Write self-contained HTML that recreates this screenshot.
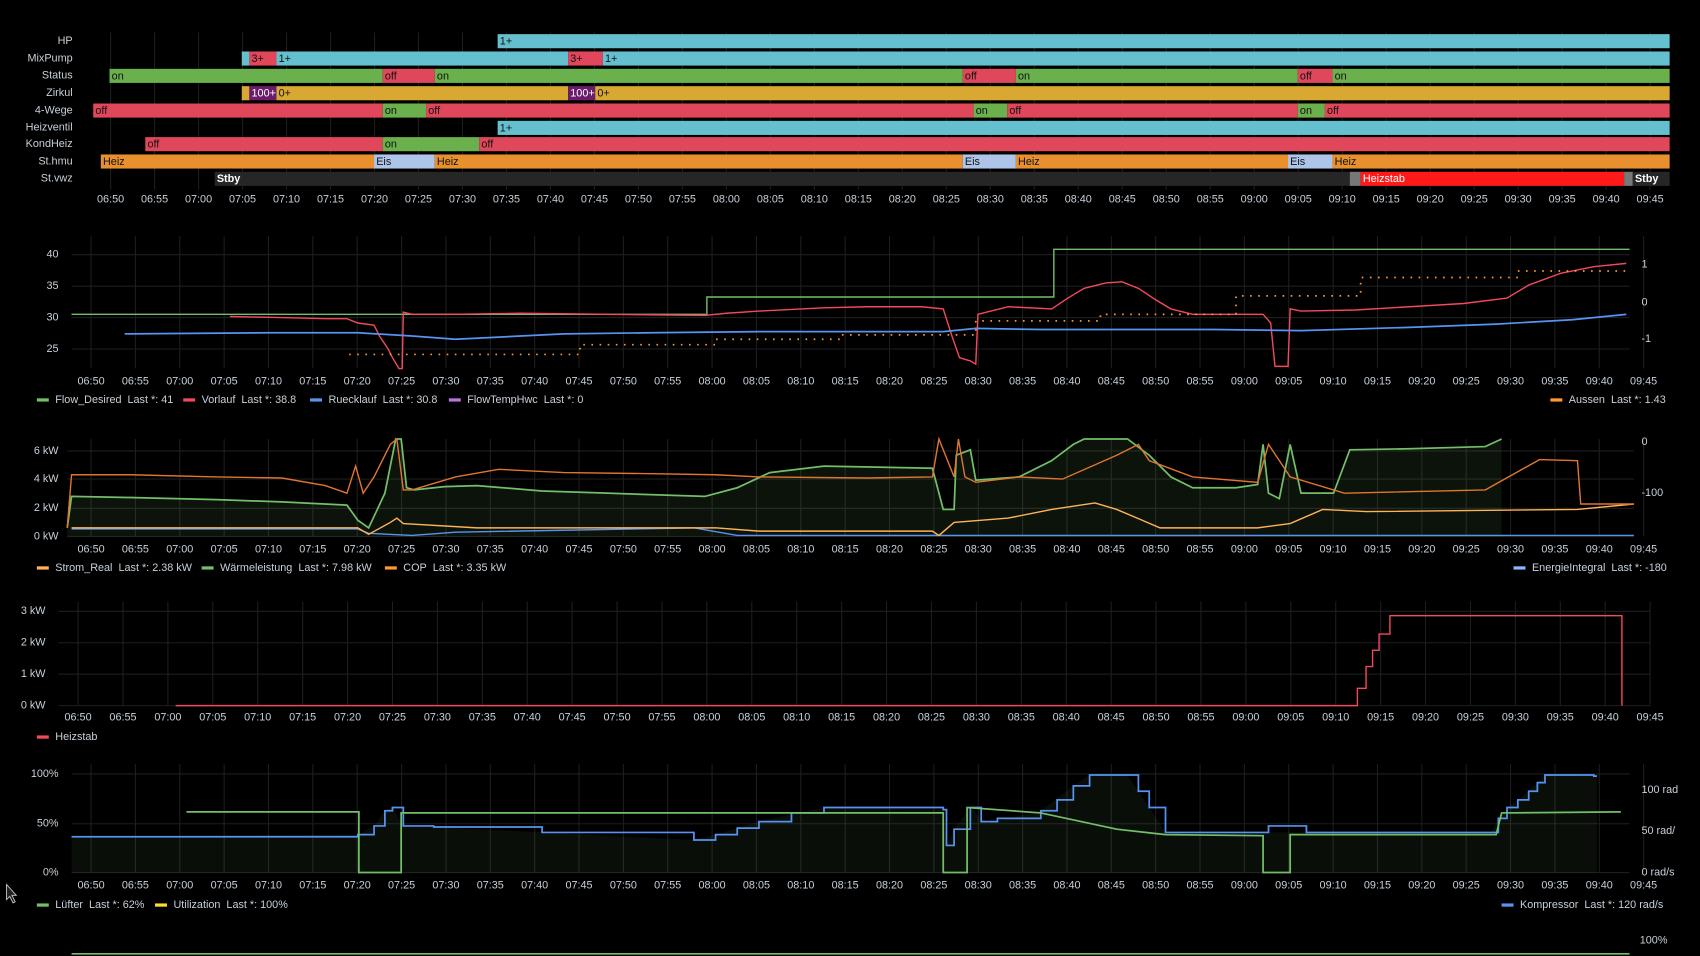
<!DOCTYPE html>
<html><head><meta charset="utf-8"><style>
html,body{margin:0;padding:0;background:#000;}
svg{display:block;font-family:"Liberation Sans",sans-serif;}
</style></head><body>
<svg id="s" width="1700" height="956" viewBox="0 0 1568 882" preserveAspectRatio="none" xmlns="http://www.w3.org/2000/svg">
<rect width="1568" height="882" fill="#000"/>
</svg>
<script>
const S=document.getElementById('s');const NS='http://www.w3.org/2000/svg';
function el(t,a,txt){const e=document.createElementNS(NS,t);for(const k in a)e.setAttribute(k,a[k]);if(txt!==undefined)e.textContent=txt;S.appendChild(e);return e;}
function text(x,y,s,o={}){return el('text',Object.assign({x,y,fill:'#c7d0d9','font-size':10,'dominant-baseline':'middle'},o),s);}
const times=[];for(let i=0;i<36;i++){let m=50+i*5;let h=6+Math.floor(m/60);m%=60;times.push(String(h).padStart(2,'0')+':'+String(m).padStart(2,'0'));}
function xaxis(x0,x1,y,gtop,gbot){const d=(x1-x0)/35;for(let i=0;i<36;i++){const x=x0+i*d;el('line',{x1:x,x2:x,y1:gtop,y2:gbot,stroke:'#1e1e1e','stroke-width':1});text(x,y,times[i],{'text-anchor':'middle'});}}
function hgrid(x0,x1,ys){ys.forEach(y=>el('line',{x1:x0,x2:x1,y1:y,y2:y,stroke:'#1e1e1e'}));}
function line(p,c,w=1.3,extra={}){el('polyline',Object.assign({points:p.map(q=>q.join(',')).join(' '),fill:'none',stroke:c,'stroke-width':w},extra));}
function step(p){const r=[];for(let i=0;i<p.length;i++){if(i>0)r.push([p[i][0],p[i-1][1]]);r.push(p[i]);}return r;}
function area(p,yb,c){const pts=[[p[0][0],yb],...p,[p[p.length-1][0],yb]];el('polygon',{points:pts.map(q=>q.join(',')).join(' '),fill:c});}
function legend(items,y){items.forEach(([x,c,s])=>{el('rect',{x:x,y:y-1.5,width:11,height:3,fill:c});text(x+17,y,s.replace(/ /g,'\u00a0'),{'font-size':10});});}
const C={cy:'#64bfcf',rd:'#e0475a',gr:'#6ab04c',ye:'#d9a833',pu:'#6b1d6b',or:'#e8902e',ei:'#aec4e8',dk:'#262626',gy:'#777',hs:'#ff1a1a'};
xaxis(102,1522,184,30,175);
const rows=[
['HP',[[459,1540,'cy','1+']]],
['MixPump',[[223,230,'cy',''],[230,255,'rd','3+'],[255,524,'cy','1+'],[524,556,'rd','3+'],[556,1540,'cy','1+']]],
['Status',[[101,353,'gr','on'],[353,401,'rd','off'],[401,888,'gr','on'],[888,937,'rd','off'],[937,1197,'gr','on'],[1197,1229,'rd','off'],[1229,1540,'gr','on']]],
['Zirkul',[[223,230,'ye',''],[230,255,'pu','100+'],[255,524,'ye','0+'],[524,549,'pu','100+'],[549,1540,'ye','0+']]],
['4-Wege',[[86,353,'rd','off'],[353,393,'gr','on'],[393,898,'rd','off'],[898,929,'gr','on'],[929,1197,'rd','off'],[1197,1222,'gr','on'],[1222,1540,'rd','off']]],
['Heizventil',[[459,1540,'cy','1+']]],
['KondHeiz',[[134,353,'rd','off'],[353,442,'gr','on'],[442,1540,'rd','off']]],
['St.hmu',[[93,345,'or','Heiz'],[345,401,'ei','Eis'],[401,888,'or','Heiz'],[888,937,'ei','Eis'],[937,1188,'or','Heiz'],[1188,1229,'ei','Eis'],[1229,1540,'or','Heiz']]],
['St.vwz',[[198,1245,'dk','Stby'],[1245,1255,'gy',''],[1255,1498,'hs','Heizstab'],[1498,1506,'gy',''],[1506,1540,'dk','Stby']]]];
const ry=[38,54,70,86,102,118,133,149,165];
rows.forEach((r,i)=>{const y=ry[i];text(67,y,r[0],{'text-anchor':'end'});r[1].forEach(s=>{el('rect',{x:s[0],y:y-6.5,width:s[1]-s[0],height:13,fill:C[s[2]]});if(s[3]){const light=(s[2]=='pu'||s[2]=='dk'||s[2]=='hs');text(s[0]+2,y+0.5,s[3],{fill:light?'#fff':'#111','font-size':10,'font-weight':s[2]=='dk'?'bold':'normal'});}});});
hgrid(66,1503,[235,264,293,322]);xaxis(84,1516,352,218,340);
[['40',235],['35',264],['30',293],['25',322]].forEach(a=>text(54,a[1],a[0],{'text-anchor':'end'}));
[['1',244],['0',279],['-1',313]].forEach(a=>text(1514,a[1],a[0]));
line([[66,290],[652,290],[652,274],[972,274],[972,230],[1503,230]],'#73bf69');
line([[212,292],[260,293],[300,294],[320,294],[330,298],[345,300],[350,310],[358,322],[362,330],[368,340],[371,340],[372,288],[380,290],[420,290],[480,289],[560,290],[650,291],[670,289],[700,287],[760,284],[800,283],[850,283],[870,285],[878,310],[885,330],[895,333],[900,336],[902,290],[930,283],[970,285],[985,275],[1000,266],[1020,261],[1035,260],[1050,266],[1065,276],[1080,285],[1100,290],[1165,290],[1172,298],[1176,338],[1188,338],[1190,285],[1200,287],[1250,286],[1300,283],[1350,280],[1390,275],[1410,263],[1440,252],[1470,246],[1500,243]],'#f2495c');
line([[115,308],[250,307],[330,307],[380,310],[420,313],[480,310],[520,308],[600,307],[700,306],[800,306],[870,306],[900,303],[960,304],[1050,304],[1120,304],[1200,305],[1300,302],[1380,299],[1450,295],[1500,290]],'#5794f2',1.6);
line([[322,327],[535,327],[535,318],[660,318],[660,313],[775,313],[775,309],[900,309],[900,296],[1015,296],[1015,290],[1140,290],[1140,273],[1255,273],[1255,256],[1400,256],[1400,250],[1500,250]],'#ff9830',1.6,{'stroke-dasharray':'1.5 6'});
legend([[34,'#73bf69','Flow_Desired  Last *: 41'],[169,'#f2495c','Vorlauf  Last *: 38.8'],[286,'#5794f2','Ruecklauf  Last *: 30.8'],[414,'#b877d9','FlowTempHwc  Last *: 0'],[1430,'#ff9830','Aussen  Last *: 1.43']],369);
hgrid(62,1507,[416,442,469,495]);xaxis(84,1516,507,405,495);
[['6 kW',416],['4 kW',442],['2 kW',469],['0 kW',495]].forEach(a=>text(54,a[1],a[0],{'text-anchor':'end'}));
[['0',408],['-100',455]].forEach(a=>text(1514,a[1],a[0]));
const gw=[[62,487],[66,458],[120,459],[200,461],[260,463],[320,466],[330,480],[340,487],[348,470],[355,455],[365,405],[370,405],[375,450],[382,452],[410,449],[440,448],[500,453],[560,455],[650,458],[680,450],[710,436],[760,430],[860,432],[870,470],[880,470],[882,420],[895,415],[900,443],[940,440],[970,425],[990,410],[1000,405],[1040,405],[1060,420],[1080,440],[1100,450],[1140,450],[1160,447],[1165,410],[1170,455],[1180,460],[1190,410],[1200,455],[1230,455],[1245,415],[1300,414],[1370,412],[1385,405]];
area(gw,495,'rgba(115,191,105,0.1)');
line([[66,488],[330,488],[340,492],[380,494],[420,491],[640,487],[680,494],[1507,494]],'#5794f2');
line([[66,487],[330,487],[340,493],[360,482],[366,478],[372,483],[440,487],[660,487],[700,490],[860,490],[866,494],[880,482],[930,478],[970,470],[1010,464],[1030,470],[1070,487],[1160,487],[1190,483],[1220,470],[1260,472],[1455,470],[1507,465]],'#ffb357');
line(gw,'#73bf69',1.6);
line([[62,487],[66,438],[120,438],[200,440],[260,441],[300,448],[320,455],[328,430],[335,455],[345,440],[360,410],[366,405],[372,452],[380,452],[420,440],[460,433],[520,436],[600,437],[660,438],[700,440],[800,441],[860,440],[866,405],[880,440],[884,405],[890,440],[900,445],[940,440],[980,442],[1030,420],[1050,410],[1060,425],[1100,440],[1160,445],[1170,410],[1190,440],[1240,455],[1370,452],[1420,424],[1455,425],[1458,465],[1507,465]],'#e0752d');
legend([[34,'#ffb357','Strom_Real  Last *: 2.38 kW'],[186,'#73bf69','Wärmeleistung  Last *: 7.98 kW'],[355,'#ff9830','COP  Last *: 3.35 kW'],[1396,'#8ab8ff','EnergieIntegral  Last *: -180']],524);
hgrid(54,1522,[564,593,622,651]);xaxis(72,1522,662,555,651);
[['3 kW',564],['2 kW',593],['1 kW',622],['0 kW',651]].forEach(a=>text(42,a[1],a[0],{'text-anchor':'end'}));
line(step([[162,651],[1248,651],[1252,635],[1260,615],[1266,600],[1272,585],[1282,568],[1496,568],[1496,651]]),'#f2495c');
legend([[34,'#f2495c','Heizstab']],680);
hgrid(66,1503,[714,760,805]);xaxis(84,1516,817,705,805);
[['100%',714],['50%',760],['0%',805]].forEach(a=>text(54,a[1],a[0],{'text-anchor':'end'}));
[['100 rad',729],['50 rad/',767],['0 rad/s',805]].forEach(a=>text(1514,a[1],a[0]));
const lf=[[172,749],[331,749],[331,805],[370,805],[370,750],[870,750],[870,805],[892,805],[892,745],[960,750],[1030,765],[1075,770],[1165,771],[1165,805],[1190,805],[1190,770],[1380,770],[1385,750],[1495,749]];
area([[66,772],[330,770],[345,762],[355,748],[362,745],[372,762],[400,763],[500,768],[640,775],[660,770],[700,758],[760,745],[870,747],[873,780],[880,765],[895,745],[910,760],[960,748],[990,725],[1005,715],[1040,715],[1060,745],[1075,768],[1375,768],[1390,745],[1410,730],[1425,715],[1473,716]],805,'rgba(115,191,105,0.08)');
const kp=step([[66,772],[330,770],[345,762],[355,748],[362,745],[372,762],[400,763],[500,768],[640,775],[660,770],[680,764],[700,758],[730,750],[760,745],[870,747],[873,780],[880,765],[895,745],[905,758],[920,755],[960,748],[975,738],[990,725],[1005,715],[1040,715],[1050,730],[1060,745],[1075,768],[1165,768],[1170,762],[1200,762],[1205,768],[1375,768],[1382,755],[1390,745],[1400,738],[1410,730],[1418,722],[1425,715],[1470,716],[1473,716]]);
line(kp,'#5794f2',1.6);
line(lf,'#73bf69',1.6);
legend([[34,'#73bf69','Lüfter  Last *: 62%'],[143,'#fade2a','Utilization  Last *: 100%'],[1385,'#5794f2','Kompressor  Last *: 120 rad/s']],835);
text(1538,868,'100%',{'text-anchor':'end'});
line([[66,880],[1503,880]],'#73bf69',1.5);
el('polygon',{points:'6,816 6,830 9,827 12,833 14,832 11,826 15,826',fill:'#222',stroke:'#ccc','stroke-width':0.8});
</script>
</body></html>
